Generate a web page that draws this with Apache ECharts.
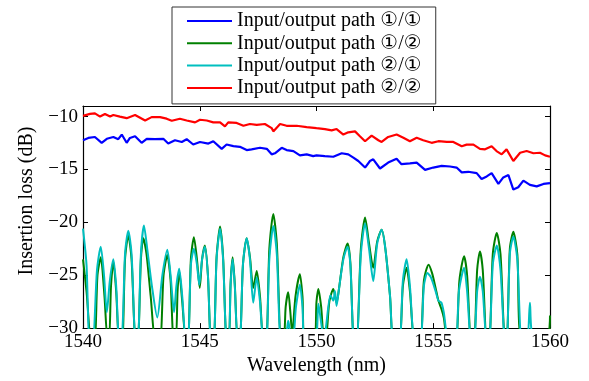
<!DOCTYPE html>
<html><head><meta charset="utf-8">
<script src="https://cdn.jsdelivr.net/npm/echarts@6/dist/echarts.min.js"></script>
<style>html,body{margin:0;padding:0;background:#fff}#c{width:589px;height:381px}</style>
</head><body><div id="c"></div>
<script>
const seriesNames = ['Input/output path \u2460/\u2460','Input/output path \u2460/\u2461','Input/output path \u2461/\u2460','Input/output path \u2461/\u2461'];
const xTicks = [1540,1545,1550,1555,1560];
const yTicks = [-30,-25,-20,-15,-10];

const path11 = [[1540.0,-12.24],[1540.23,-12.02],[1540.51,-11.93],[1540.8,-12.48],[1541.02,-12.1],[1541.3,-11.93],[1541.51,-12.14],[1541.66,-11.7],[1541.87,-12.48],[1542.01,-12.02],[1542.23,-11.86],[1542.51,-12.48],[1542.73,-12.1],[1543.08,-12.14],[1543.44,-12.1],[1543.65,-12.55],[1543.94,-12.24],[1544.23,-12.4],[1544.44,-12.14],[1544.72,-12.64],[1545.01,-12.4],[1545.37,-12.55],[1545.58,-12.33],[1545.94,-13.05],[1546.15,-12.64],[1546.44,-12.8],[1546.72,-12.86],[1547.01,-13.17],[1547.22,-13.1],[1547.58,-12.95],[1547.87,-13.05],[1548.08,-13.57],[1548.22,-13.47],[1548.51,-12.95],[1548.72,-13.17],[1549.01,-13.26],[1549.29,-13.67],[1549.58,-13.57],[1549.86,-13.74],[1550.0,-13.67],[1550.36,-13.74],[1550.72,-13.8],[1551.08,-13.47],[1551.36,-13.57],[1551.58,-13.88],[1551.79,-14.2],[1552.08,-14.82],[1552.29,-14.2],[1552.43,-14.04],[1552.72,-14.91],[1553.07,-14.35],[1553.43,-13.98],[1553.64,-14.5],[1554.0,-14.42],[1554.29,-14.35],[1554.65,-15.04],[1555.0,-14.82],[1555.36,-14.66],[1555.72,-14.72],[1556.0,-14.82],[1556.22,-15.28],[1556.5,-15.22],[1556.86,-15.35],[1557.07,-15.9],[1557.29,-15.66],[1557.5,-15.35],[1557.79,-16.37],[1558.0,-15.75],[1558.22,-15.53],[1558.43,-16.9],[1558.64,-16.68],[1558.86,-16.06],[1559.14,-16.46],[1559.43,-16.6],[1559.72,-16.37],[1560.0,-16.3]];

const path12 = [[1540.0,-23.5],[1540.15,-26.5],[1540.35,-31],[1540.5,-31],[1540.62,-25],[1540.76,-23.3],[1540.92,-27],[1541.05,-31],[1541.12,-31],[1541.2,-26],[1541.3,-23.7],[1541.42,-26.5],[1541.55,-31],[1541.68,-31],[1541.8,-23.5],[1541.94,-21.2],[1542.08,-23.5],[1542.25,-31],[1542.35,-31],[1542.48,-23.5],[1542.58,-21.5],[1542.72,-23],[1542.9,-27],[1543.1,-31],[1543.3,-31],[1543.45,-25],[1543.61,-23.1],[1543.75,-25.5],[1543.88,-31],[1543.98,-31],[1544.05,-26.5],[1544.12,-24.6],[1544.25,-27.5],[1544.4,-31],[1544.5,-31],[1544.62,-23.5],[1544.75,-21.4],[1544.88,-23.5],[1545.0,-26.2],[1545.1,-23.5],[1545.22,-22.2],[1545.35,-25],[1545.48,-31],[1545.6,-31],[1545.72,-23.3],[1545.87,-20.4],[1546.0,-23.3],[1546.15,-31],[1546.25,-31],[1546.32,-25.8],[1546.41,-23.3],[1546.5,-25.8],[1546.62,-31],[1546.72,-31],[1546.85,-24],[1547.01,-21.5],[1547.15,-23.3],[1547.29,-26.2],[1547.44,-24.6],[1547.58,-27],[1547.72,-31],[1547.85,-31],[1547.98,-22.5],[1548.15,-19.2],[1548.3,-22],[1548.48,-31],[1548.6,-31],[1548.68,-28],[1548.79,-26.6],[1548.88,-28.5],[1548.96,-30.5],[1549.1,-27],[1549.29,-24.9],[1549.4,-27],[1549.5,-31],[1549.9,-31],[1550.0,-27.5],[1550.08,-26.3],[1550.2,-28],[1550.32,-31],[1550.4,-31],[1550.55,-27.5],[1550.72,-26.3],[1550.86,-27.6],[1550.95,-26.5],[1551.15,-23.3],[1551.33,-22.0],[1551.45,-23.8],[1551.6,-31],[1551.72,-31],[1551.9,-22.5],[1552.08,-19.55],[1552.25,-22],[1552.43,-24.3],[1552.6,-21.8],[1552.79,-20.7],[1552.95,-22.5],[1553.15,-27],[1553.29,-31],[1553.55,-31],[1553.7,-26],[1553.86,-24.3],[1554.0,-26.5],[1554.2,-31],[1554.45,-31],[1554.6,-25.5],[1554.8,-24.0],[1554.95,-24.8],[1555.1,-26.2],[1555.22,-27.4],[1555.35,-28.2],[1555.45,-29],[1555.62,-31],[1555.96,-31],[1556.12,-25.5],[1556.32,-23.2],[1556.45,-25],[1556.62,-31],[1556.75,-31],[1556.88,-24.5],[1557.0,-22.75],[1557.12,-24.5],[1557.29,-31],[1557.4,-31],[1557.55,-23],[1557.72,-21.0],[1557.88,-23],[1558.07,-31],[1558.15,-31],[1558.28,-22.5],[1558.43,-20.9],[1558.6,-23],[1558.79,-31],[1559.85,-31],[1560.0,-28.8]];

const path21 = [[1540.0,-20.6],[1540.15,-24],[1540.28,-31],[1540.42,-31],[1540.6,-24.5],[1540.76,-22.3],[1540.9,-25],[1541.02,-28.5],[1541.15,-25.5],[1541.3,-23.5],[1541.42,-26],[1541.55,-31],[1541.68,-30.5],[1541.8,-23],[1541.94,-20.8],[1542.08,-23],[1542.25,-31],[1542.35,-31],[1542.48,-23],[1542.61,-20.3],[1542.75,-22.5],[1542.95,-26],[1543.18,-29.0],[1543.4,-25],[1543.61,-22.6],[1543.75,-25],[1543.9,-28.5],[1544.0,-26],[1544.12,-24.4],[1544.25,-27],[1544.4,-31],[1544.5,-31],[1544.62,-24],[1544.75,-22.5],[1544.88,-24],[1544.98,-25.9],[1545.1,-23.5],[1545.22,-22.3],[1545.35,-25],[1545.48,-31],[1545.6,-31],[1545.72,-23.5],[1545.87,-20.6],[1546.0,-23.5],[1546.15,-31],[1546.25,-31],[1546.32,-26],[1546.41,-23.5],[1546.5,-26],[1546.62,-31],[1546.72,-31],[1546.85,-24],[1547.01,-21.5],[1547.15,-23.5],[1547.29,-27.6],[1547.44,-25.2],[1547.58,-27.5],[1547.72,-31],[1547.85,-31],[1547.98,-23.5],[1548.15,-20.35],[1548.3,-23],[1548.48,-31],[1548.7,-30.5],[1548.79,-29.3],[1548.88,-30.5],[1549.0,-31],[1549.12,-28],[1549.29,-25.9],[1549.4,-28],[1549.5,-31],[1549.95,-31],[1550.08,-27.7],[1550.2,-29.5],[1550.32,-31],[1550.4,-30],[1550.6,-26.9],[1550.72,-27.4],[1550.79,-26.5],[1550.86,-27.9],[1550.95,-26.5],[1551.15,-23.5],[1551.33,-22.3],[1551.45,-24],[1551.6,-31],[1551.72,-31],[1551.9,-23],[1552.08,-20.1],[1552.25,-22.5],[1552.43,-25.55],[1552.6,-22],[1552.79,-20.7],[1552.95,-22.5],[1553.15,-27],[1553.29,-31],[1553.55,-31],[1553.7,-25.5],[1553.86,-23.5],[1554.0,-26],[1554.2,-31],[1554.45,-31],[1554.6,-26],[1554.75,-24.8],[1554.9,-25.2],[1555.1,-26.5],[1555.22,-27.4],[1555.35,-27.6],[1555.45,-28.5],[1555.65,-31],[1555.96,-31],[1556.1,-26.5],[1556.32,-24.3],[1556.45,-26.5],[1556.62,-31],[1556.75,-31],[1556.88,-26.5],[1557.0,-25.15],[1557.12,-26.5],[1557.29,-31],[1557.4,-31],[1557.55,-24],[1557.72,-22.2],[1557.88,-24.5],[1558.07,-31],[1558.15,-31],[1558.28,-23],[1558.43,-21.35],[1558.6,-23.5],[1558.79,-31],[1559.02,-31],[1559.14,-27.6],[1559.27,-31],[1560.0,-32]];

const path22 = [[1540.0,-9.93],[1540.3,-9.75],[1540.51,-9.7],[1540.73,-10.0],[1540.94,-9.75],[1541.16,-10.0],[1541.3,-9.85],[1541.58,-10.0],[1541.87,-10.15],[1542.23,-9.85],[1542.66,-10.37],[1542.94,-10.05],[1543.3,-10.05],[1543.58,-10.2],[1543.8,-10.4],[1544.15,-10.2],[1544.44,-10.37],[1544.8,-10.55],[1545.01,-10.3],[1545.3,-10.37],[1545.58,-10.55],[1545.87,-10.55],[1546.08,-10.93],[1546.22,-10.55],[1546.58,-10.6],[1546.87,-10.87],[1547.15,-10.7],[1547.44,-10.78],[1547.79,-10.7],[1548.08,-11.09],[1548.15,-11.4],[1548.44,-10.7],[1548.72,-10.87],[1549.15,-10.87],[1549.58,-11.0],[1550.0,-11.1],[1550.36,-11.18],[1550.65,-11.3],[1550.86,-11.18],[1551.15,-11.7],[1551.36,-11.49],[1551.65,-11.4],[1551.86,-11.86],[1552.08,-12.33],[1552.36,-11.8],[1552.65,-12.24],[1552.79,-12.4],[1553.07,-11.93],[1553.43,-11.7],[1553.72,-12.0],[1554.0,-12.33],[1554.29,-12.0],[1554.57,-12.24],[1554.93,-12.48],[1555.22,-12.33],[1555.58,-12.4],[1555.86,-12.4],[1556.22,-12.8],[1556.43,-12.65],[1556.72,-12.65],[1557.0,-13.05],[1557.22,-13.1],[1557.5,-12.8],[1557.71,-13.26],[1557.93,-13.57],[1558.14,-13.1],[1558.43,-14.2],[1558.72,-13.42],[1559.0,-13.26],[1559.29,-13.47],[1559.57,-13.42],[1559.79,-13.67],[1560.0,-13.8]];

const colors = ['#0000ff','#008000','#00bfbf','#ff0000'];
const serif = "'Liberation Serif','Times New Roman','DejaVu Sans',serif";
const minus = v => String(v).replace('-', '\u2212');
const plain = v => String(v);

const chart = echarts.init(document.getElementById('c'), null, {renderer:'canvas'});
const axisCommon = {
  type:'value', min:xTicks[0], max:xTicks[xTicks.length-1], interval:5,
  axisLine:{show:true,onZero:false,lineStyle:{color:'#000',width:1.2}},
  axisTick:{show:true,inside:true,length:5,lineStyle:{color:'#000',width:1}},
  splitLine:{show:false}
};
const datasets = [path11, path12, path21, path22];
chart.setOption({
  animation:false,
  backgroundColor:'#fff',
  grid:{left:83,right:39,top:106,bottom:50,containLabel:false},
  legend:{
    orient:'vertical', left:172, top:7,
    padding:[4,14,6,15], itemGap:2.3, itemWidth:45, itemHeight:2,
    icon:'rect',
    backgroundColor:'#fff', borderColor:'#333', borderWidth:1, borderRadius:0,
    textStyle:{fontFamily:serif,fontSize:20,color:'#000'},
    data:seriesNames
  },
  xAxis:[
    Object.assign({}, axisCommon, {position:'bottom',
      name:'Wavelength (nm)', nameLocation:'middle', nameGap:22,
      nameTextStyle:{fontFamily:serif,fontSize:20,color:'#000'},
      axisLabel:{show:true,margin:4,fontFamily:serif,fontSize:19,color:'#000',formatter:plain}}),
    Object.assign({}, axisCommon, {position:'top', axisLabel:{show:false}})
  ],
  yAxis:[
    Object.assign({}, axisCommon, {min:-30,max:-9,interval:5,position:'left',
      name:'Insertion loss (dB)', nameLocation:'middle', nameGap:46, nameRotate:90,
      nameTextStyle:{fontFamily:serif,fontSize:20,color:'#000',padding:[0,0,0,32]},
      axisLabel:{show:true,margin:5,fontFamily:serif,fontSize:19,color:'#000',formatter:minus,
        showMaxLabel:false}}),
    Object.assign({}, axisCommon, {min:-30,max:-9,interval:5,position:'right', axisLabel:{show:false}})
  ],
  series: datasets.map((d,i)=>({
    name:seriesNames[i], type:'line', data:d, xAxisIndex:0, yAxisIndex:0,
    symbol:'none', showSymbol:false, clip:true,
    smooth: (i===1||i===2) ? 0.25 : false,
    lineStyle:{color:colors[i],width:(i===0||i===3)?2.2:2}, itemStyle:{color:colors[i]}
  }))
});
</script></body></html>
